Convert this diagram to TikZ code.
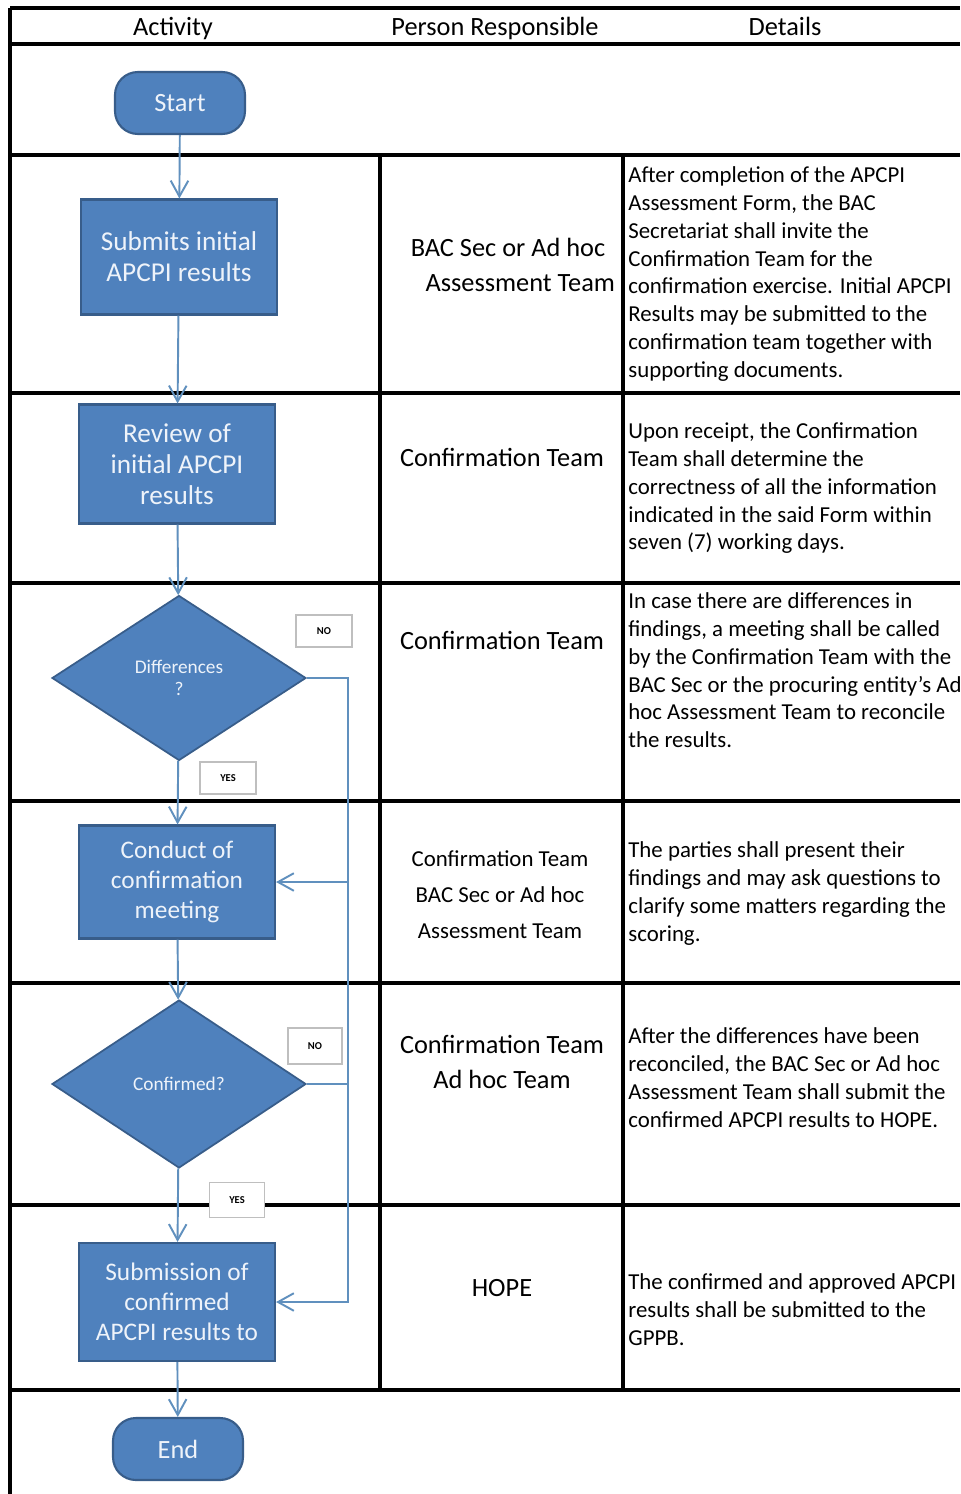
\documentclass[tikz,border=0pt]{standalone}
\usepackage{fontspec}
\setmainfont{Carlito}
\usetikzlibrary{shapes.geometric,arrows.meta,positioning}
\usepackage{xcolor}
\definecolor{boxblue}{HTML}{4F81BD}
\definecolor{boxedge}{HTML}{385D8A}
\definecolor{flowline}{HTML}{6090BE}
\definecolor{tagedge}{HTML}{BFBFBF}
\definecolor{boxtext}{HTML}{EEF3FA}

\tikzset{
  tableline/.style={black, line width=1.8pt},
  terminal/.style={rectangle, rounded corners=13pt, fill=boxblue, draw=boxedge, line width=1.2pt,
    minimum width=2.6cm, minimum height=1.24cm, text=boxtext, font=\fontsize{15}{18}\selectfont},
  process/.style={rectangle, fill=boxblue, draw=boxedge, line width=1.2pt, minimum width=3.92cm,
    minimum height=2.3cm, align=center, text=boxtext, font=\fontsize{15.5}{17.5}\selectfont},
  smallprocess/.style={process, font=\fontsize{14.4}{17}\selectfont},
  decision/.style={diamond, fill=boxblue, draw=boxedge, line width=1pt, inner sep=0pt,
    minimum width=5.08cm, minimum height=3.3cm, align=center, text=boxtext, font=\fontsize{11}{12.5}\selectfont},
  tag/.style={rectangle, draw=tagedge, fill=white, line width=0.8pt, minimum width=1.12cm,
    minimum height=0.64cm, font=\fontsize{6}{7}\bfseries\selectfont},
  flow/.style={flowline, line width=1.1pt, -{Straight Barb[length=9pt,width=10pt]}},
  person/.style={align=center, font=\fontsize{15}{20.4}\selectfont},
  detail/.style={anchor=north west, align=left, inner sep=0pt, font=\fontsize{13}{15.9}\selectfont},
  header/.style={anchor=base, font=\fontsize{15}{18}\selectfont}
}

\begin{document}
\begin{tikzpicture}[x=0.02cm, y=-0.02cm]
  \fill[white] (0,0) rectangle (960,1494);
  \useasboundingbox (0,0) rectangle (960,1494);

  % table rules
  \draw[tableline] (10,8) -- (960,8);
  \foreach \y in {44,155,393,583,801,983,1205,1390}
    \draw[tableline] (10,\y) -- (960,\y);
  \draw[tableline] (10,8) -- (10,1494);
  \draw[tableline] (380,155) -- (380,1390);
  \draw[tableline] (623,155) -- (623,1390);

  % headers
  \node[header] (hact) at (173,35) {Activity};
  \node[header] (hper) at (495,35) {Person Responsible};
  \node[header] (hdet) at (785,35) {Details};

  % flow chart
  \node[terminal] (start) at (180,103) {Start};
  \node[process] (submit) at (179,257) {Submits initial\\APCPI results};
  \node[process, minimum height=2.38cm] (review) at (177,464) {Review of\\initial APCPI\\results};
  \node[decision] (diff) at (179,678) {Differences\\?};
  \node[smallprocess, minimum height=2.26cm] (meeting) at (177,882) {Conduct of\\confirmation\\meeting};
  \node[decision, minimum height=3.36cm] (confirm) at (179,1084) {Confirmed?};
  \node[smallprocess, minimum height=2.36cm] (submission) at (177,1302) {Submission of\\confirmed\\APCPI results to};
  \node[terminal] (finish) at (178,1449) {End};

  \draw[flow] (start) -- (submit);
  \draw[flow] (submit) -- (review);
  \draw[flow] (review) -- (diff);
  \draw[flow] (diff) -- (meeting);
  \draw[flow] (meeting) -- (confirm);
  \draw[flow] (confirm) -- (submission);
  \draw[flow] (submission) -- (finish);
  \draw[flow] (diff.east) -- ++(41,0) |- (submission.east);
  \draw[flow] (confirm.east) -- ++(41,0) |- (meeting.east);

  % yes / no tags
  \node[tag] (no1) at (324,631) {NO};
  \node[tag] (yes1) at (228,778) {YES};
  \node[tag, minimum height=0.72cm, minimum width=1.08cm] (no2) at (315,1046) {NO};
  \node[tag, minimum height=0.7cm, minimum width=1.1cm] (yes2) at (237,1200) {YES};

  % person responsible
  \node[person] (p1) at (508,265) {BAC Sec or Ad hoc\hspace{14pt}\\\hspace{14pt}Assessment Team};
  \node[person] (p2) at (502,457) {Confirmation Team};
  \node[person] (p3) at (502,640) {Confirmation Team};
  \node[person, font=\fontsize{13}{20.4}\selectfont] (p4) at (500,895) {Confirmation Team\\BAC Sec or Ad hoc\\Assessment Team\hspace{12pt}};
  \node[person] (p5) at (502,1062) {Confirmation Team\\Ad hoc Team};
  \node[person] (p6) at (502,1288) {HOPE};

  % details
  \node[detail] (d1) at (628,166) {After  completion of the APCPI\\Assessment Form, the BAC\\Secretariat shall invite the\\Confirmation Team for the\\confirmation exercise. Initial APCPI\\Results may be submitted to the\\confirmation team together with\\supporting documents.};
  \node[detail] (d2) at (628,422) {Upon  receipt, the Confirmation\\Team shall determine the\\correctness of all the information\\indicated in the said Form within\\seven (7) working days.};
  \node[detail] (d3) at (628,592) {In case there are differences in\\findings, a meeting shall be called\\by the Confirmation Team with the\\BAC Sec or the procuring entity's Ad\\hoc Assessment Team to reconcile\\the results.};
  \node[detail] (d4) at (628,841) {The parties shall present their\\findings and may ask questions to\\clarify some matters regarding the\\scoring.};
  \node[detail] (d5) at (628,1027) {After the differences have been\\reconciled, the BAC Sec or Ad hoc\\Assessment Team shall submit the\\confirmed APCPI results to HOPE.};
  \node[detail] (d6) at (628,1273) {The confirmed and approved APCPI\\results shall be submitted  to the\\GPPB.};
\end{tikzpicture}
\end{document}
